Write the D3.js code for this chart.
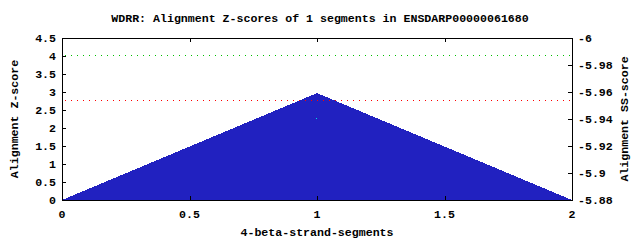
<!DOCTYPE html>
<html>
<head>
<meta charset="utf-8">
<script src="https://cdn.jsdelivr.net/npm/d3@7"></script>
<style>
  body { margin: 0; background: #fff; }
  text { font-family: "Liberation Mono", "DejaVu Sans Mono", monospace; font-size: 11.6px; font-weight: bold; fill: #000; }
</style>
</head>
<body>
<svg id="chart" width="640" height="240"></svg>
<script>
// profile of z-scores along the segment axis
const segX = [0, 1, 2];
const zScore = [0, 2.97, 0];
const ssPoint = [{x: 0.995, z: 2.27}];
const greenLine = 4.03;
const redLine = 2.77;
const xTicks = [0, 0.5, 1, 1.5, 2];
const yTicks = [0, 0.5, 1, 1.5, 2, 2.5, 3, 3.5, 4, 4.5];
const y2Ticks = [-6, -5.98, -5.96, -5.94, -5.92, -5.9, -5.88];

const width = 640, height = 240;
const m = {left: 62, right: 68, top: 38, bottom: 40};

const svg = d3.select("#chart");

const x = d3.scaleLinear().domain([0, 2]).range([m.left, width - m.right]);
const y = d3.scaleLinear().domain([0, 4.5]).range([height - m.bottom, m.top]);
const y2 = d3.scaleLinear().domain([-5.88, -6]).range([height - m.bottom, m.top]);

const pts = segX.map((d, i) => [d, zScore[i]]);
const area = d3.area().x(d => x(d[0])).y0(y(0)).y1(d => y(d[1]));

svg.append("path")
    .datum(pts)
    .attr("d", area)
    .attr("fill", "#2121c0")
    .attr("shape-rendering", "crispEdges");

// dotted reference lines drawn as single pixels
function dotted(v, color) {
    const dots = d3.range(x(0) + 3, x(2) - 2, 6);
    svg.append("g").selectAll("rect").data(dots).join("rect")
        .attr("x", d => Math.round(d))
        .attr("y", Math.round(y(v)))
        .attr("width", 1).attr("height", 1)
        .attr("fill", color);
}
dotted(greenLine, "#00c000");
dotted(redLine, "#ff0000");

svg.selectAll(".ss")
    .data(ssPoint)
    .join("rect")
    .attr("x", d => Math.round(x(d.x)))
    .attr("y", d => Math.round(y(d.z)))
    .attr("width", 1).attr("height", 1)
    .attr("fill", "#00e0e0");

// frame
svg.append("rect")
    .attr("x", m.left + 0.5).attr("y", m.top + 0.5)
    .attr("width", width - m.left - m.right).attr("height", height - m.top - m.bottom)
    .attr("fill", "none").attr("stroke", "#000");

const tick = 4;
const g = svg.append("g").attr("stroke", "#000").attr("shape-rendering", "crispEdges");
xTicks.slice(1, -1).forEach(t => {
    const px = Math.round(x(t)) + 0.5;
    g.append("line").attr("x1", px).attr("x2", px).attr("y1", y(0)).attr("y2", y(0) - tick);
    g.append("line").attr("x1", px).attr("x2", px).attr("y1", m.top).attr("y2", m.top + tick);
});
yTicks.slice(1, -1).forEach(t => {
    const py = Math.round(y(t)) + 0.5;
    g.append("line").attr("x1", m.left).attr("x2", m.left + tick).attr("y1", py).attr("y2", py);
});
y2Ticks.slice(1, -1).forEach(t => {
    const py = Math.round(y2(t)) + 0.5;
    g.append("line").attr("x1", width - m.right).attr("x2", width - m.right - tick).attr("y1", py).attr("y2", py);
});

const fmt = d => String(d);

svg.selectAll(".xl").data(xTicks).join("text")
    .attr("x", d => x(d)).attr("y", height - m.bottom + 18)
    .attr("text-anchor", "middle").text(fmt);

svg.selectAll(".yl").data(yTicks).join("text")
    .attr("x", m.left - 6).attr("y", d => y(d) + 4)
    .attr("text-anchor", "end").text(fmt);

svg.selectAll(".y2l").data(y2Ticks).join("text")
    .attr("x", width - m.right + 6).attr("y", d => y2(d) + 4)
    .attr("text-anchor", "start").text(fmt);

svg.append("text")
    .attr("x", 320).attr("y", 22).attr("text-anchor", "middle")
    .text("WDRR: Alignment Z-scores of 1 segments in ENSDARP00000061680");

svg.append("text")
    .attr("x", 317).attr("y", 236).attr("text-anchor", "middle")
    .text("4-beta-strand-segments");

svg.append("text")
    .attr("transform", `translate(18,${(m.top + height - m.bottom) / 2}) rotate(-90)`)
    .attr("text-anchor", "middle")
    .text("Alignment Z-score");

svg.append("text")
    .attr("transform", `translate(628,${(m.top + height - m.bottom) / 2}) rotate(-90)`)
    .attr("text-anchor", "middle")
    .text("Alignment SS-score");
</script>
</body>
</html>
